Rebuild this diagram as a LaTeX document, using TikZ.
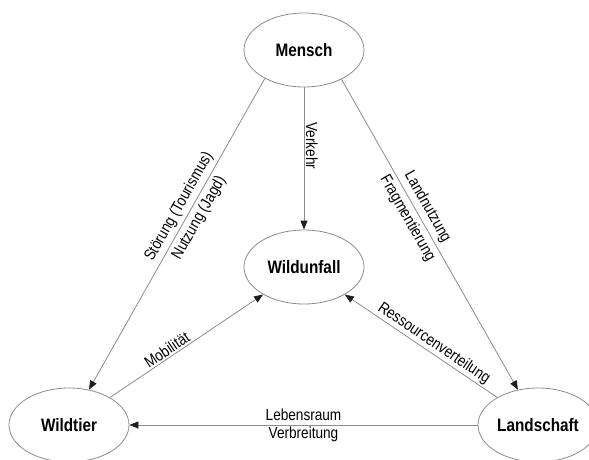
\documentclass[tikz,border=0pt]{standalone}
\usepackage{fontspec}
\setmainfont{Liberation Sans}[FakeStretch=0.85]
\usetikzlibrary{arrows.meta,shapes.geometric}
\definecolor{linegray}{RGB}{140,140,140}
\definecolor{tipgray}{RGB}{30,30,30}
\begin{document}
\begin{tikzpicture}[x=1pt,y=-1pt,
  ent/.style={draw=linegray, line width=0.8pt, ellipse, minimum width=120pt,
    minimum height=74pt, inner sep=0pt, font=\bfseries\fontsize{18}{20}\selectfont},
  rel/.style={draw=linegray, line width=0.8pt,
    -{Triangle[length=9pt,width=7pt,color=tipgray]}},
  lab/.style={font=\fontsize{16}{18}\selectfont, inner sep=1.5pt},
  twolab/.style={font=\fontsize{16}{18}\selectfont, inner sep=0pt, align=center}]
\useasboundingbox (0,0) rectangle (589,460);
\fill[white] (0,0) rectangle (589,460);
\node[ent] (M) at (304,50) {Mensch};
\node[ent] (U) at (304,267) {Wildunfall};
\node[ent] (W) at (69,425) {Wildtier};
\node[ent] (L) at (538,425) {Landschaft};
\draw[rel] (M) -- node[lab,sloped,above,pos=0.41]{Verkehr} (U);
\draw[rel] (M.216) -- node[twolab,sloped,pos=0.43]{Störung (Tourismus)\\[5pt]Nutzung (Jagd)} (W);
\draw[rel] (M.322) -- node[twolab,sloped,pos=0.43]{Landnutzung\\[5pt]Fragmentierung} (L);
\draw[rel] (W) -- node[lab,sloped,above,pos=0.40]{Mobilität} (U);
\draw[rel] (L) -- node[lab,sloped,above,pos=0.45]{Ressourcenverteilung} (U);
\draw[rel] (L) -- node[twolab,pos=0.5]{Lebensraum\\Verbreitung} (W);
\end{tikzpicture}
\end{document}
